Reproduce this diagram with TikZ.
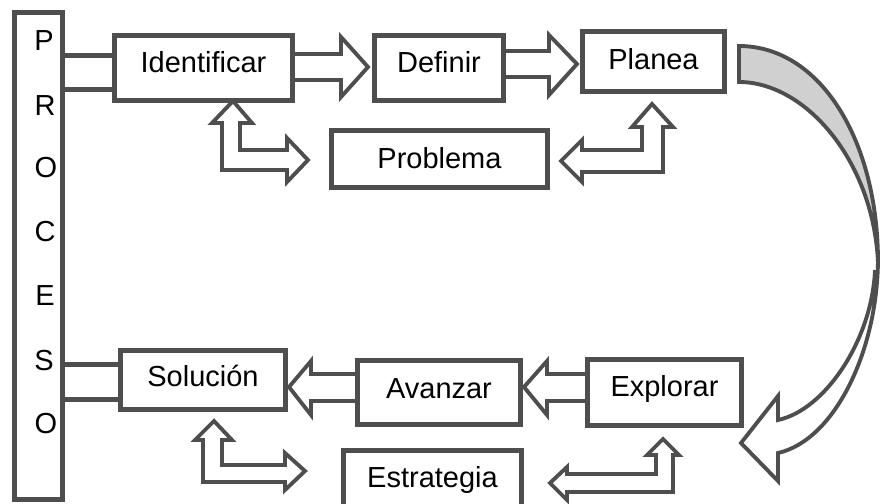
\documentclass[tikz,border=0pt]{standalone}
\usepackage{fontspec}
\setmainfont{Liberation Sans}
\definecolor{lc}{RGB}{78,78,78}
\definecolor{gf}{RGB}{208,208,208}
\begin{document}
\begin{tikzpicture}[x=0.02cm,y=-0.02cm,
  box/.style={draw=lc, line width=2.8pt, fill=white, inner sep=0pt,
    text height=0.72em, text depth=0.25em, font=\fontsize{16.5}{19}\selectfont},
  letter/.style={anchor=base, inner sep=0pt, font=\fontsize{16.5}{19}\selectfont},
  blk/.style={draw=lc, line width=2.2pt, fill=white, line join=miter},
  link/.style={draw=lc, line width=2.8pt, fill=white}]
\useasboundingbox (0,0) rectangle (880,504);
\clip (0,0) rectangle (880,504);

% coordinates for connector ends
\coordinate (c1a) at (58,55.5);
\coordinate (c1b) at (116,89.5);
\coordinate (c2a) at (58,364.5);
\coordinate (c2b) at (122,399.5);
\draw[link] (c1a) rectangle (c1b);
\draw[link] (c2a) rectangle (c2b);

% straight block arrows
\draw[blk] (290,54) -- (341,54) -- (341,37) -- (368,67) -- (341,97) -- (341,80) -- (290,80) -- cycle;
\draw[blk] (500,51) -- (549,51) -- (549,35) -- (577,64) -- (549,95) -- (549,77) -- (500,77) -- cycle;
\draw[blk] (590,374) -- (547,374) -- (547,361) -- (524,387) -- (547,415) -- (547,401) -- (590,401) -- cycle;
\draw[blk] (360,374) -- (311,374) -- (311,361) -- (289,387) -- (311,415) -- (311,401) -- (360,401) -- cycle;

% bent double arrows
\draw[blk] (233,101) -- (252,123) -- (240,123) -- (240,150) -- (287,150) -- (287,138) -- (308,160)
  -- (287,182) -- (287,170) -- (222,170) -- (222,123) -- (212,123) -- cycle;
\draw[blk] (652,104) -- (673,127) -- (663,127) -- (663,172) -- (582,172) -- (582,182) -- (561,161)
  -- (582,140) -- (582,150) -- (642,150) -- (642,127) -- (632,127) -- cycle;
\draw[blk] (214,421) -- (232,440) -- (222,440) -- (222,465) -- (285,465) -- (285,453) -- (305,471)
  -- (285,490) -- (285,482) -- (203,482) -- (203,440) -- (195,440) -- cycle;
\draw[blk] (663,439) -- (679,455) -- (673,455) -- (673,492) -- (567,492) -- (567,500) -- (550,483)
  -- (567,467) -- (567,474) -- (656,474) -- (656,455) -- (647,455) -- cycle;

% curved arrow
\draw[blk, fill=gf] (739,46) .. controls (820,46) and (878,140) .. (878,262)
  .. controls (873,160) and (805,82) .. (739,82) -- cycle;
\draw[blk] (878,258) .. controls (878,350) and (835,440) .. (778,453)
  -- (778,481) -- (741,443) -- (778,396) -- (778,420)
  .. controls (825,410) and (872,340) .. (875,270);

% boxes
\node[box, minimum width=0.96cm, minimum height=9.74cm] (proc) at (38.5,256) {};
\node[box, minimum width=3.56cm, minimum height=1.30cm] (ident) at (203.5,68) {Identificar};
\node[box, minimum width=2.58cm, minimum height=1.30cm] (defin) at (439,68) {Definir};
\node[box, minimum width=2.84cm, minimum height=1.20cm] (plan) at (653.5,61.5) {\raisebox{-2pt}{Planea}};
\node[box, minimum width=4.32cm, minimum height=1.14cm] (prob) at (439.5,159) {\raisebox{-3.2pt}{Problema}};
\node[box, minimum width=3.30cm, minimum height=1.18cm] (sol) at (203,380) {\raisebox{-1.5pt}{Solución}};
\node[box, minimum width=3.26cm, minimum height=1.28cm] (avan) at (439,392.5) {\raisebox{-1.1pt}{Avanzar}};
\node[box, minimum width=3.08cm, minimum height=1.32cm] (expl) at (664.5,392.5) {Explorar};
\node[box, minimum width=3.56cm, minimum height=1.30cm] (estr) at (432.5,483) {Estrategia};

% PROCESO letters
\node[letter] (p1) at (44,50) {P};
\node[letter] (p2) at (45,115) {R};
\node[letter] (p3) at (46,177) {O};
\node[letter] (p4) at (45,241) {C};
\node[letter] (p5) at (45,305) {E};
\node[letter] (p6) at (44,370) {S};
\node[letter] (p7) at (46,433) {O};
\end{tikzpicture}
\end{document}
